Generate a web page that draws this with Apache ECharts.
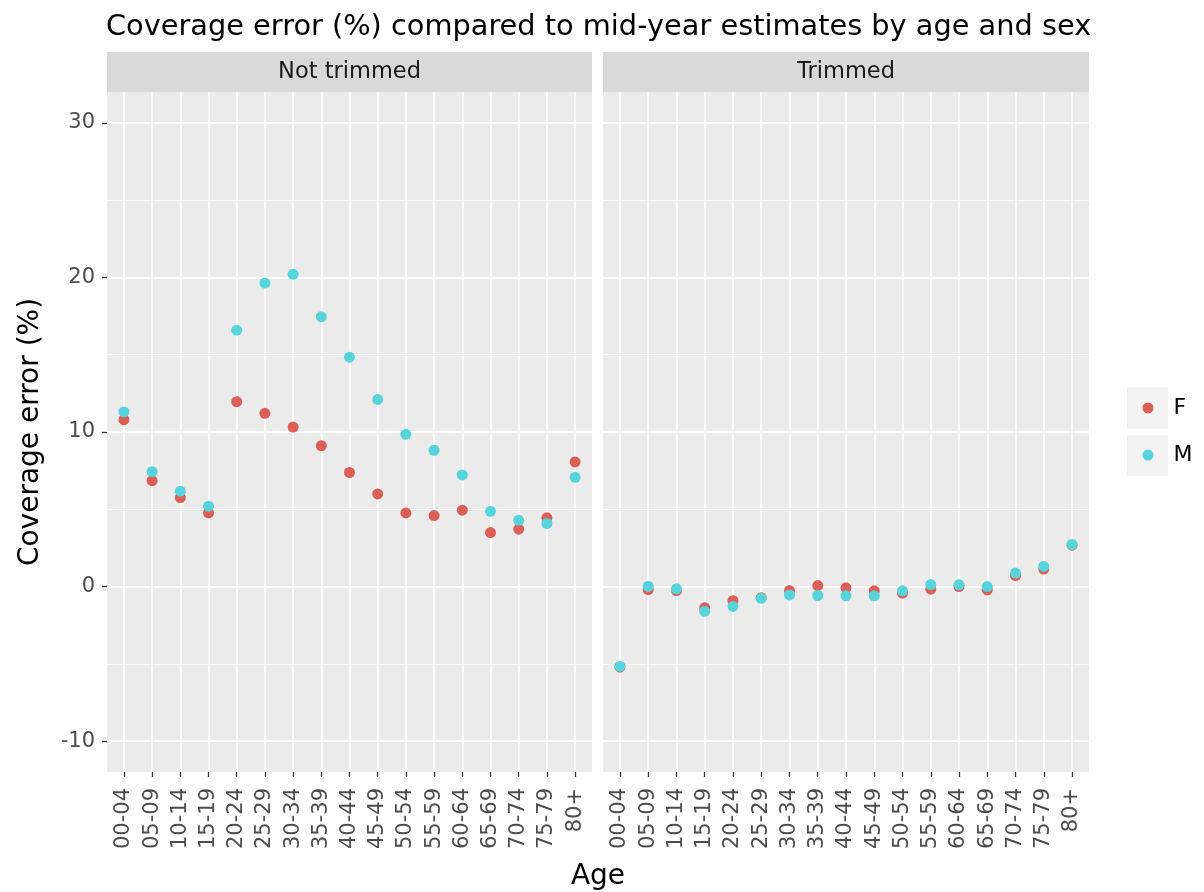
<!DOCTYPE html>
<html><head><meta charset="utf-8">
<script src="https://cdn.jsdelivr.net/npm/echarts@6/dist/echarts.min.js"></script>
<style>html,body{margin:0;padding:0;background:#fff}#c{width:1204px;height:892px}</style>
</head><body><div id="c"></div>
<script>
// ---- data ----
const categories = ['00-04','05-09','10-14','15-19','20-24','25-29','30-34','35-39','40-44','45-49','50-54','55-59','60-64','65-69','70-74','75-79','80+'];
const facets = ['Not trimmed', 'Trimmed'];
const sexes = ['F', 'M'];
const yTicks = [-10, 0, 10, 20, 30];
const yMinorTicks = [-5, 5, 15, 25];
const notTrimmedF = [10.8, 6.85, 5.76, 4.76, 11.96, 11.21, 10.32, 9.11, 7.38, 5.99, 4.76, 4.59, 4.94, 3.49, 3.71, 4.45, 8.06];
const notTrimmedM = [11.3, 7.43, 6.17, 5.2, 16.59, 19.64, 20.2, 17.45, 14.84, 12.11, 9.85, 8.82, 7.22, 4.87, 4.29, 4.08, 7.07];
const trimmedF = [-5.22, -0.2, -0.26, -1.38, -0.92, -0.72, -0.26, 0.06, -0.08, -0.28, -0.43, -0.17, 0.0, -0.22, 0.7, 1.13, 2.68];
const trimmedM = [-5.17, 0.02, -0.15, -1.6, -1.29, -0.76, -0.54, -0.58, -0.6, -0.6, -0.28, 0.13, 0.11, 0.0, 0.87, 1.3, 2.72];

// ---- chart ----
const FONT = 'DejaVu Sans';
const COL_F = '#db5f57', COL_M = '#57d3db';
const idx = categories.map((_, i) => i);
const pts = arr => arr.map((v, i) => [i, v]);

const grids = [
  {left: 107, top: 92, width: 485, height: 680, show: true, backgroundColor: '#ebebeb', borderWidth: 0},
  {left: 603, top: 92, width: 486, height: 680, show: true, backgroundColor: '#ebebeb', borderWidth: 0}
];

function xAxis(g) {
  return {
    type: 'value', gridIndex: g, min: -0.6, max: 16.6, position: 'bottom',
    axisLine: {show: false, onZero: false},
    axisTick: {show: true, customValues: idx, length: 5, lineStyle: {color: '#333333', width: 1.3}},
    axisLabel: {show: true, customValues: idx, rotate: 90, margin: 16, fontFamily: FONT, fontSize: 21, color: '#4d4d4d',
      formatter: v => categories[Math.round(v)]},
    splitLine: {show: true, lineStyle: {color: '#ffffff', width: 1.6}}
  };
}
function yMain(g, labels) {
  const a = {
    type: 'value', gridIndex: g, min: -12, max: 32, position: 'left',
    axisLine: {show: false, onZero: false},
    axisTick: {show: labels, customValues: yTicks, length: 5, lineStyle: {color: '#333333', width: 1.3}},
    axisLabel: {show: labels, customValues: yTicks, margin: 12, fontFamily: FONT, fontSize: 21, color: '#4d4d4d'},
    splitLine: {show: true, lineStyle: {color: '#ffffff', width: 1.8}}
  };
  if (labels) {
    a.name = 'Coverage error (%)';
    a.nameLocation = 'middle';
    a.nameGap = 62;
    a.nameTextStyle = {fontFamily: FONT, fontSize: 28, color: '#000000'};
  }
  return a;
}
function yMinor(g) {
  return {
    type: 'value', gridIndex: g, min: -12, max: 32, position: 'right',
    axisLine: {show: false, onZero: false},
    axisTick: {show: false, customValues: yMinorTicks},
    axisLabel: {show: false, customValues: yMinorTicks},
    splitLine: {show: true, lineStyle: {color: '#ffffff', width: 0.9}}
  };
}

const scatter = (name, color, xi, yi, arr) => ({
  type: 'scatter', name, xAxisIndex: xi, yAxisIndex: yi, data: pts(arr),
  symbol: 'circle', symbolSize: 11, itemStyle: {color, opacity: 1}, emphasis: {disabled: true}
});

const option = {
  animation: false,
  backgroundColor: '#ffffff',
  textStyle: {fontFamily: FONT},
  title: {
    text: 'Coverage error (%) compared to mid-year estimates by age and sex',
    left: 106, top: 6, padding: [5, 0, 5, 0],
    textStyle: {fontFamily: FONT, fontSize: 28.8, fontWeight: 'normal', color: '#000000', lineHeight: 34}
  },
  grid: grids,
  xAxis: [xAxis(0), xAxis(1)],
  yAxis: [yMain(0, true), yMinor(0), yMain(1, false), yMinor(1)],
  legend: {
    data: sexes, orient: 'vertical', left: 1142.5, top: 388, padding: 0,
    itemWidth: 11, itemHeight: 11, itemGap: 7, icon: 'circle',
    textStyle: {fontFamily: FONT, fontSize: 22, color: '#000000', lineHeight: 40, padding: [0, 0, 0, 15]}
  },
  graphic: [
    {type: 'rect', shape: {x: 1127, y: 387, width: 41, height: 42}, style: {fill: '#f2f2f2'}, z: 0},
    {type: 'rect', shape: {x: 1127, y: 435, width: 41, height: 41}, style: {fill: '#f2f2f2'}, z: 0},
    {type: 'rect', shape: {x: 107, y: 52, width: 485, height: 40}, style: {fill: '#d9d9d9'}, z: 0},
    {type: 'rect', shape: {x: 603, y: 52, width: 486, height: 40}, style: {fill: '#d9d9d9'}, z: 0},
    {type: 'text', x: 349.5, y: 72, style: {text: facets[0], align: 'center', verticalAlign: 'middle', font: '22.5px "DejaVu Sans"', fill: '#1a1a1a'}, z: 1},
    {type: 'text', x: 846, y: 72, style: {text: facets[1], align: 'center', verticalAlign: 'middle', font: '22.5px "DejaVu Sans"', fill: '#1a1a1a'}, z: 1},
    {type: 'text', x: 598, y: 877, style: {text: 'Age', align: 'center', verticalAlign: 'middle', font: '28px "DejaVu Sans"', fill: '#000000'}, z: 1}
  ],
  series: [
    scatter('F', COL_F, 0, 0, notTrimmedF),
    scatter('F', COL_F, 1, 2, trimmedF),
    scatter('M', COL_M, 0, 0, notTrimmedM),
    scatter('M', COL_M, 1, 2, trimmedM)
  ]
};
const chart = echarts.init(document.getElementById('c'));
chart.setOption(option);
</script>
</body></html>
